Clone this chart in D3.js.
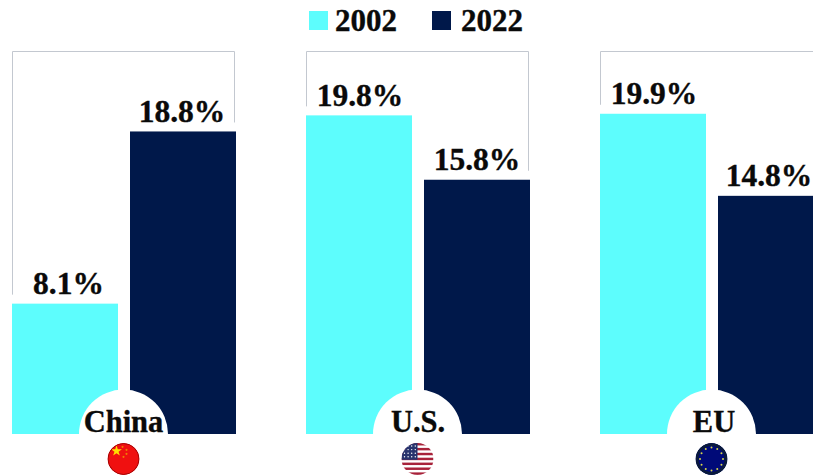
<!DOCTYPE html>
<html>
<head>
<meta charset="utf-8">
<script src="https://cdnjs.cloudflare.com/ajax/libs/d3/7.8.5/d3.min.js"></script>
<style>
  html, body { margin: 0; padding: 0; background: #fff; overflow: hidden; }
  svg text { font-family: "Liberation Serif", serif; font-weight: 700; fill: #0a0a0a; stroke: #0a0a0a; stroke-width: 0.35; }
</style>
</head>
<body>
<div id="chart"></div>
<script>
const regions = ["China", "U.S.", "EU"];
const years = ["2002", "2022"];
const values2002 = [8.1, 19.8, 19.9];
const values2022 = [18.8, 15.8, 14.8];
const colors = ["#5dfdfd", "#00184a"];

const width = 813, height = 475;
const baseY = 434, topY = 51;

const svg = d3.select("#chart").append("svg")
  .attr("width", width)
  .attr("height", height)
  .style("display", "block");

const defs = svg.append("defs");

// one scale shared by the three panels
const y = d3.scaleLinear().domain([0, 23.8]).range([baseY, topY]);

const panel = d3.scaleOrdinal().domain(regions).range([12, 306, 600]);
const panelW = 224;
const x = d3.scaleBand().domain(years).range([0, panelW]).paddingInner(0.1017);
const col = d3.scaleOrdinal().domain(years).range(colors);

// labels in the source are not quite centred on their bars
const labelNudge = [[3.5, -1], [1, 0], [1, -2]];
const nameNudge = [0, 0.5, 2.5];

regions.forEach((name, i) => {
  const g = svg.append("g").attr("transform", `translate(${panel(name)},0)`);
  const vals = [values2002[i], values2022[i]];
  const cx = panelW / 2 - 0.5;

  // thin grey frame behind the bars
  g.append("path")
    .attr("d", `M0.5,${baseY}V${topY + 0.5}H${panelW - 1.5}V${baseY}`)
    .attr("fill", "none")
    .attr("stroke", "#c3c8d0")
    .attr("stroke-width", 1);

  // the frame stops a little above each bar
  g.selectAll("rect.gap")
    .data(vals)
    .enter()
    .append("rect")
    .attr("class", "gap")
    .attr("x", (d, j) => x(years[j]) - 1)
    .attr("y", d => y(d) - 9)
    .attr("width", x.bandwidth() + 2)
    .attr("height", 10)
    .attr("fill", "#fff");

  g.selectAll("rect.bar")
    .data(vals)
    .enter()
    .append("rect")
    .attr("class", "bar")
    .attr("x", (d, j) => x(years[j]))
    .attr("y", d => y(d))
    .attr("width", x.bandwidth())
    .attr("height", d => baseY - y(d))
    .attr("fill", (d, j) => col(years[j]));

  g.selectAll("text.val")
    .data(vals)
    .enter()
    .append("text")
    .attr("class", "val")
    .attr("x", (d, j) => x(years[j]) + x.bandwidth() / 2 + labelNudge[i][j])
    .attr("y", d => y(d) - 9.5)
    .attr("text-anchor", "middle")
    .attr("font-size", 31.5)
    .text(d => d.toFixed(1) + "%");

  // white half circle holding the region name
  g.append("path")
    .attr("d", d3.arc()({ innerRadius: 0, outerRadius: 44.5, startAngle: -Math.PI / 2, endAngle: Math.PI / 2 }))
    .attr("transform", `translate(${cx},${baseY})`)
    .attr("fill", "#fff");

  g.append("text")
    .attr("x", cx + nameNudge[i])
    .attr("y", 432)
    .attr("text-anchor", "middle")
    .attr("font-size", 30.5)
    .text(name);

  // flag
  const r = 16, fy = 459;
  const clipId = "flag" + i;
  defs.append("clipPath").attr("id", clipId)
    .append("circle").attr("cx", cx).attr("cy", fy).attr("r", r);
  const f = g.append("g").attr("clip-path", `url(#${clipId})`);
  if (name === "China") drawChina(f, cx, fy, r);
  if (name === "U.S.") drawUS(f, cx, fy, r);
  if (name === "EU") drawEU(f, cx, fy, r);
});

function star(g, px, py, size, fill) {
  g.append("path")
    .attr("d", d3.symbol(d3.symbolStar, size * size)())
    .attr("transform", `translate(${px},${py})`)
    .attr("fill", fill);
}

function drawChina(f, cx, fy, r) {
  f.append("circle").attr("cx", cx).attr("cy", fy).attr("r", r).attr("fill", "#f01010");
  star(f, cx - 7, fy - 8, 6, "#ffe000");
  [[-1, -12], [3, -9], [3, -5], [0, -2]].forEach(p => star(f, cx + p[0], fy + p[1], 1.6, "#f0a000"));
  f.append("circle").attr("cx", cx).attr("cy", fy).attr("r", r - 0.5)
    .attr("fill", "none").attr("stroke", "#a00808");
}

function drawUS(f, cx, fy, r) {
  f.append("circle").attr("cx", cx).attr("cy", fy).attr("r", r).attr("fill", "#fff");
  d3.range(7).forEach(k => {
    f.append("rect").attr("x", cx - r).attr("y", fy - r + k * 4.9)
      .attr("width", 2 * r).attr("height", 2.45).attr("fill", "#a8223a");
  });
  f.append("rect").attr("x", cx - r).attr("y", fy - r).attr("width", r).attr("height", r * 1.05).attr("fill", "#28346e");
  d3.range(4).forEach(a => d3.range(4).forEach(b => {
    f.append("circle").attr("cx", cx - r + 3 + b * 3.6).attr("cy", fy - r + 3 + a * 3.6)
      .attr("r", 0.7).attr("fill", "#fff");
  }));
}

function drawEU(f, cx, fy, r) {
  f.append("circle").attr("cx", cx).attr("cy", fy).attr("r", r).attr("fill", "#000a78");
  f.append("circle").attr("cx", cx).attr("cy", fy).attr("r", r - 1.5)
    .attr("fill", "none").attr("stroke", "#0a1a3c").attr("stroke-width", 3);
  d3.range(12).forEach(k => {
    const a = k * Math.PI / 6;
    f.append("circle").attr("cx", cx + Math.sin(a) * 11.5).attr("cy", fy - Math.cos(a) * 11.5)
      .attr("r", 1).attr("fill", "#d8d84a");
  });
}

// legend
const legendX = d3.scaleOrdinal().domain(years).range([309, 432]);
const legendTextX = d3.scaleOrdinal().domain(years).range([335, 461]);

svg.selectAll("rect.legend")
  .data(years)
  .enter()
  .append("rect")
  .attr("class", "legend")
  .attr("x", d => legendX(d))
  .attr("y", 11)
  .attr("width", 19)
  .attr("height", 19)
  .attr("fill", d => col(d));

svg.selectAll("text.legend")
  .data(years)
  .enter()
  .append("text")
  .attr("class", "legend")
  .attr("x", d => legendTextX(d))
  .attr("y", 31)
  .attr("font-size", 31)
  .text(d => d);
</script>
</body>
</html>
